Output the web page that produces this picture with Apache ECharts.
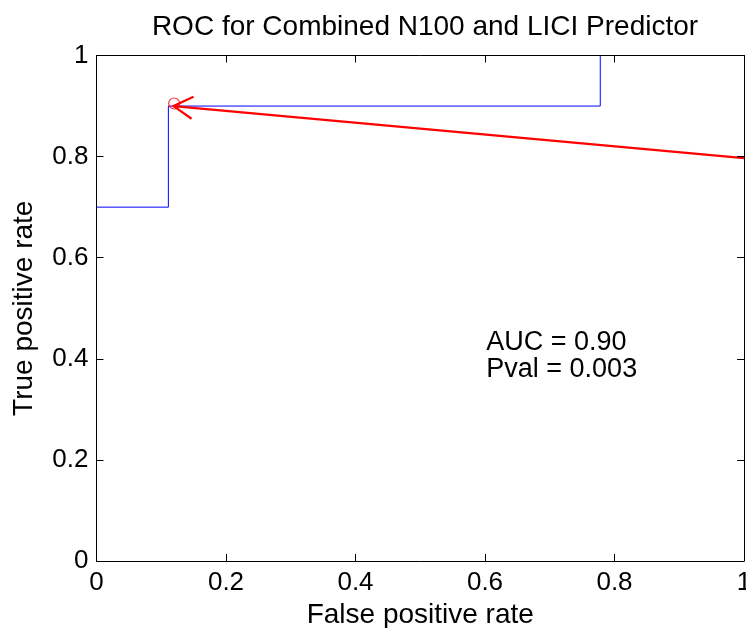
<!DOCTYPE html>
<html>
<head>
<meta charset="utf-8">
<script src="https://cdn.jsdelivr.net/npm/echarts@6/dist/echarts.min.js"></script>
<style>html,body{margin:0;padding:0;background:#fff}#c{width:746px;height:628px}</style>
</head>
<body>
<div id="c"></div>
<script>
// ROC curve data
var fpr = [0, 0, 0.111, 0.111, 0.778, 0.778, 1];
var tpr = [0, 0.7, 0.7, 0.9, 0.9, 1, 1];
// optimal operating point (circle)
var optPoint = [0.12, 0.905];
// arrow annotation: tail and tip
var arrowTail = [1.0, 0.797];
var arrowTip = [0.119, 0.9];
// text annotation
var textPos = [0.602, 0.405];
var textLines = ['AUC = 0.90', 'Pval = 0.003'];
var titleText = 'ROC for Combined N100 and LICI Predictor';
var xName = 'False positive rate';
var yName = 'True positive rate';

var FONT = '"Liberation Sans", Arial, Helvetica, sans-serif';
var rocData = fpr.map(function (v, i) { return [v, tpr[i]]; });

var chart = echarts.init(document.getElementById('c'), null, {renderer: 'canvas'});

function baseAxis(extra) {
  var a = {
    type: 'value', min: 0, max: 1, interval: 0.2, z: 10,
    axisLine: {show: true, onZero: false, lineStyle: {color: '#000', width: 1}},
    axisTick: {show: true, inside: true, length: 7, lineStyle: {color: '#000', width: 1}},
    splitLine: {show: false},
    axisLabel: {color: '#000', fontSize: 26, fontFamily: FONT}
  };
  for (var k in extra) a[k] = extra[k];
  return a;
}

var option = {
  animation: false,
  backgroundColor: '#fff',
  title: {
    text: titleText, left: 420, top: 8, textAlign: 'center',
    textStyle: {color: '#000', fontSize: 28, fontWeight: 'normal', fontFamily: FONT}
  },
  grid: {left: 96.5, right: 2, top: 55.5, bottom: 67, containLabel: false, outerBoundsMode: 'none'},
  xAxis: [
    baseAxis({position: 'bottom', name: xName, nameLocation: 'middle', nameGap: 40,
      nameTextStyle: {color: '#000', fontSize: 28, fontFamily: FONT},
      axisLabel: {color: '#000', fontSize: 26, fontFamily: FONT, margin: 9}}),
    baseAxis({position: 'top', axisLabel: {show: false}})
  ],
  yAxis: [
    baseAxis({position: 'left', name: yName, nameLocation: 'middle', nameGap: 58,
      nameTextStyle: {color: '#000', fontSize: 28, fontFamily: FONT},
      axisLabel: {color: '#000', fontSize: 26, fontFamily: FONT, margin: 8}}),
    baseAxis({position: 'right', axisLabel: {show: false}})
  ],
  series: [
    {
      type: 'line', data: rocData, xAxisIndex: 0, yAxisIndex: 0, z: 2,
      symbol: 'none', lineStyle: {color: '#0000ff', width: 1}
    },
    {
      type: 'scatter', data: [optPoint], symbol: 'circle', symbolSize: 11,
      itemStyle: {color: 'rgba(0,0,0,0)', borderColor: '#ff0000', borderWidth: 1.2}, z: 5
    },
    {
      type: 'custom', data: [[arrowTail[0], arrowTail[1], arrowTip[0], arrowTip[1]]], z: 6, clip: false,
      renderItem: function (params, api) {
        var t0 = api.coord([api.value(0), api.value(1)]);
        var t1 = api.coord([api.value(2), api.value(3)]);
        var dx = t0[0] - t1[0], dy = t0[1] - t1[1];
        var L = Math.sqrt(dx * dx + dy * dy);
        var ux = dx / L, uy = dy / L;
        var len = 22, ang = 30 * Math.PI / 180;
        function rot(a) {
          var c = Math.cos(a), s = Math.sin(a);
          return [t1[0] + len * (ux * c - uy * s), t1[1] + len * (ux * s + uy * c)];
        }
        var w1 = rot(ang), w2 = rot(-ang);
        var st = {stroke: '#ff0000', lineWidth: 2.2, fill: null};
        return {
          type: 'group', children: [
            {type: 'line', shape: {x1: t0[0], y1: t0[1], x2: t1[0], y2: t1[1]}, style: st},
            {type: 'polyline', shape: {points: [w1, t1, w2]}, style: st}
          ]
        };
      }
    },
    {
      type: 'custom', data: [textPos], z: 7,
      renderItem: function (params, api) {
        var p = api.coord([api.value(0), api.value(1)]);
        return {
          type: 'text', x: p[0], y: p[1],
          style: {text: textLines.join('\n'), fill: '#000', font: '27px ' + FONT,
            align: 'left', verticalAlign: 'middle', lineHeight: 27}
        };
      }
    }
  ]
};
chart.setOption(option);
</script>
</body>
</html>
